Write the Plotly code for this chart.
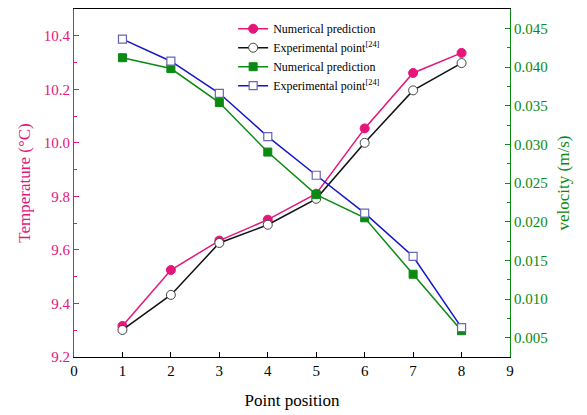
import plotly.graph_objects as go

points = [1, 2, 3, 4, 5, 6, 7, 8]
temp_num = [9.316, 9.525, 9.635, 9.713, 9.81, 10.054, 10.261, 10.336]
temp_exp = [9.301, 9.432, 9.626, 9.694, 9.791, 10.0, 10.196, 10.298]
vel_num = [0.0412, 0.0398, 0.0354, 0.0290, 0.0235, 0.0205, 0.0132, 0.0059]
vel_exp = [0.0436, 0.04075, 0.0366, 0.0310, 0.0260, 0.0211, 0.0155, 0.0063]

PINK = "#E5157A"
GREEN = "#0A8A12"
BLUE = "#1515C8"
FONT = "Liberation Serif"

fig = go.Figure()
fig.add_trace(go.Scatter(x=points, y=temp_num, mode="lines+markers",
                         name="Numerical prediction",
                         line=dict(color=PINK, width=1.5),
                         marker=dict(symbol="circle", size=9, color=PINK,
                                     line=dict(color=PINK, width=1))))
fig.add_trace(go.Scatter(x=points, y=temp_exp, mode="lines+markers",
                         name="Experimental point<sup>[24]</sup>",
                         line=dict(color="#111111", width=1.5),
                         marker=dict(symbol="circle", size=9, color="white",
                                     line=dict(color="#444444", width=1))))
fig.add_trace(go.Scatter(x=points, y=vel_num, mode="lines+markers",
                         name="Numerical prediction", yaxis="y2",
                         line=dict(color=GREEN, width=1.5),
                         marker=dict(symbol="square", size=8, color=GREEN,
                                     line=dict(color=GREEN, width=1))))
fig.add_trace(go.Scatter(x=points, y=vel_exp, mode="lines+markers",
                         name="Experimental point<sup>[24]</sup>", yaxis="y2",
                         line=dict(color=BLUE, width=1.5),
                         marker=dict(symbol="square", size=8, color="white",
                                     line=dict(color="#6666B8", width=1.2))))

fig.update_layout(
    width=587, height=415,
    margin=dict(l=74, r=77, t=8, b=57),
    paper_bgcolor="white", plot_bgcolor="white",
    font=dict(family=FONT, size=15, color="black"),
    showlegend=True,
    legend=dict(x=0.365, y=0.985, xanchor="left", yanchor="top",
                bgcolor="rgba(0,0,0,0)", font=dict(size=12, family=FONT),
                tracegroupgap=0, itemwidth=30),
    xaxis=dict(range=[0, 9], dtick=1, tick0=0, showgrid=False, zeroline=False,
               showline=True, linecolor="black", linewidth=1.2, mirror=True,
               ticks="inside", ticklen=5, tickcolor="black",
               title=dict(text="Point position", font=dict(size=17, family=FONT), standoff=16),
               tickfont=dict(size=15, family=FONT)),
    yaxis=dict(range=[9.2, 10.5], dtick=0.2, tick0=9.2, tickformat=".1f",
               showgrid=False, zeroline=False,
               showline=True, linecolor=PINK, linewidth=1.2,
               ticks="inside", ticklen=5, tickcolor=PINK,
               minor=dict(ticks="inside", ticklen=3, dtick=0.1, tickcolor=PINK),
               tickfont=dict(color=PINK, size=15, family=FONT),
               title=dict(text="Temperature (°C)", font=dict(color=PINK, size=17, family=FONT), standoff=8)),
    yaxis2=dict(range=[0.0025, 0.0475], dtick=0.005, tick0=0.005, tickformat=".3f",
                overlaying="y", side="right", showgrid=False, zeroline=False,
                showline=True, linecolor=GREEN, linewidth=1.2,
                ticks="inside", ticklen=5, tickcolor=GREEN,
                minor=dict(ticks="inside", ticklen=3, dtick=0.0025, tickcolor=GREEN),
                tickfont=dict(color=GREEN, size=15, family=FONT),
                title=dict(text="velocity (m/s)", font=dict(color=GREEN, size=17, family=FONT), standoff=10)),
)

fig.write_html("out.html")
